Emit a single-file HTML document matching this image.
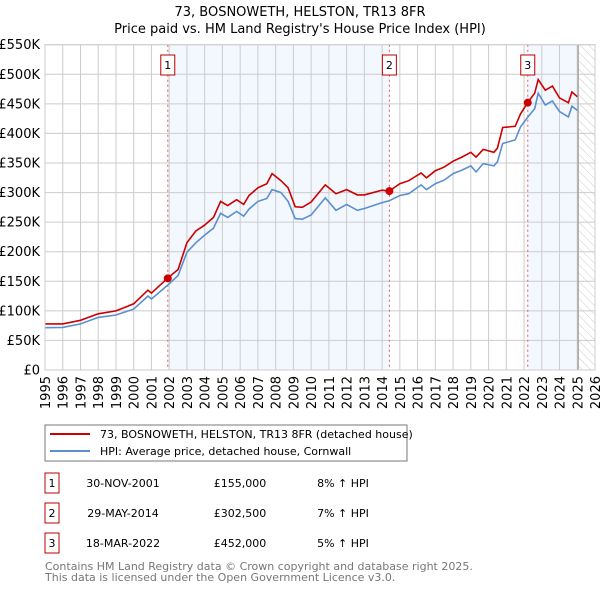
<!DOCTYPE html>
<html><head><meta charset="utf-8"><style>
body{margin:0;background:#fff;font-family:"Liberation Sans","DejaVu Sans",sans-serif;}
svg text{font-family:"DejaVu Sans","Liberation Sans",sans-serif;}
</style></head><body>
<svg id="chart" width="600" height="590" xmlns="http://www.w3.org/2000/svg">
<defs><pattern id="hatch" width="6" height="6" patternUnits="userSpaceOnUse" patternTransform="rotate(-45)"><line x1="0" y1="0" x2="0" y2="6" stroke="#ccc" stroke-width="1"/></pattern></defs>
<text x="300" y="16" text-anchor="middle" font-size="13">73, BOSNOWETH, HELSTON, TR13 8FR</text>
<text x="300" y="33" text-anchor="middle" font-size="13">Price paid vs. HM Land Registry's House Price Index (HPI)</text>
<g id="plot"></g>
<g>
<rect x="45" y="425" width="362" height="36" fill="#fff" stroke="#777"/>
<line x1="50" y1="434" x2="90" y2="434" stroke="#cc0000" stroke-width="2"/>
<text x="100" y="438" font-size="11">73, BOSNOWETH, HELSTON, TR13 8FR (detached house)</text>
<line x1="50" y1="451" x2="90" y2="451" stroke="#5b8fd0" stroke-width="2"/>
<text x="100" y="455" font-size="11">HPI: Average price, detached house, Cornwall</text>
</g>
<g id="table"></g>
<text x="45" y="570" font-size="11" fill="#777">Contains HM Land Registry data © Crown copyright and database right 2025.</text>
<text x="45" y="581" font-size="11" fill="#777">This data is licensed under the Open Government Licence v3.0.</text>
</svg>
<script>
const dates=[1995,1996,1997,1998,1999,2000,2000.8,2001,2001.9,2002.5,2003,2003.5,2004,2004.5,2004.9,2005.3,2005.8,2006.2,2006.5,2007,2007.5,2007.8,2008.3,2008.7,2009.1,2009.5,2010,2010.8,2011.4,2012,2012.6,2013,2014,2014.4,2015,2015.5,2016.2,2016.5,2017,2017.5,2018,2018.5,2019,2019.3,2019.7,2020.3,2020.5,2020.8,2021.5,2021.8,2022.2,2022.6,2022.8,2023.2,2023.6,2024,2024.5,2024.7,2025.0];
const hpi=[71.5,72,78,89,93,103,125,120,143,160,199,215,228,240,265,258,268,260,272,285,290,305,300,285,256,255,262,291,270,280,270,273,283,286,295,298,313,305,315,321,332,338,345,335,349,345,352,383,389,411,427,442,468,448,455,437,428,446,439];
const price=[78,78,84,95,100,112,135,130,155,170,215,235,245,258,285,278,288,280,295,308,315,332,320,308,276,275,284,313,298,305,296,296,304,302.5,315,320,333,325,337,343,353,360,368,360,373,368,375,410,412,433,452,468,491,473,480,460,452,470,462];
const saleDates=[2001.92,2014.41,2022.21];
const salePrices=[155,302.5,452];
const saleLabels=["30-NOV-2001","29-MAY-2014","18-MAR-2022"];
const salePriceText=["£155,000","£302,500","£452,000"];
const saleHpiText=["8% ↑ HPI","7% ↑ HPI","5% ↑ HPI"];
const yTicks=[0,50,100,150,200,250,300,350,400,450,500,550];
const yTickLabels=["£0","£50K","£100K","£150K","£200K","£250K","£300K","£350K","£400K","£450K","£500K","£550K"];
const xTicks=[1995,1996,1997,1998,1999,2000,2001,2002,2003,2004,2005,2006,2007,2008,2009,2010,2011,2012,2013,2014,2015,2016,2017,2018,2019,2020,2021,2022,2023,2024,2025,2026];
const dataEnd=2025.05;

const NS="http://www.w3.org/2000/svg";
const X0=45,X1=595,Y0=370,Y1=44.7;
const sx=v=>X0+(v-1995)/31*(X1-X0);
const sy=v=>Y0-v/550*(Y0-Y1);
const plot=document.getElementById('plot');
function mk(tag,attrs,parent){const e=document.createElementNS(NS,tag);for(const k in attrs)e.setAttribute(k,attrs[k]);(parent||plot).appendChild(e);return e;}

let r=mk('rect',{x:sx(saleDates[0]),y:Y1,width:sx(saleDates[1])-sx(saleDates[0]),height:Y0-Y1,fill:'#eef3fd',opacity:0.7});


r=mk('rect',{x:sx(saleDates[2]),y:Y1,width:sx(dataEnd)-sx(saleDates[2]),height:Y0-Y1,fill:'#eef3fd',opacity:0.7});


r=mk('rect',{x:sx(dataEnd),y:Y1,width:X1-sx(dataEnd),height:Y0-Y1,fill:'url(#hatch)'});



yTicks.forEach((t,i)=>{
 const l=mk('line',{x1:X0,x2:X1,y1:sy(t),y2:sy(t),stroke:'#ccc'});
 
 
 const tx=mk('text',{x:40,y:sy(t)+4.5,'text-anchor':'end','font-size':'13'});
 tx.textContent=yTickLabels[i];
 
 
});
xTicks.forEach(t=>{
 const l=mk('line',{x1:sx(t),x2:sx(t),y1:Y1,y2:Y0,stroke:'#ccc'});
 
 
 const tx=mk('text',{x:0,y:0,'text-anchor':'end','font-size':'13',transform:`translate(${sx(t)+5},376) rotate(-90)`});
 tx.textContent=t;
 
 
});
let d=mk('line',{x1:sx(dataEnd),x2:sx(dataEnd),y1:Y1,y2:Y0,stroke:'#999','stroke-width':1.2});



saleDates.forEach((s,i)=>{
 const l=mk('line',{x1:sx(s),x2:sx(s),y1:Y1,y2:Y0,stroke:'#e55','stroke-dasharray':'2,3'});
 
 
 const b=mk('rect',{x:sx(s)-7,y:55,width:14,height:20,fill:'#fff',stroke:'#b00'});
 
 
 const t=mk('text',{x:sx(s),y:69,'text-anchor':'middle','font-size':'11'});
 t.textContent=i+1;
 
 
});

const pathOf=arr=>arr.map((v,i)=>(i?'L':'M')+sx(dates[i]).toFixed(1)+','+sy(v).toFixed(1)).join('');
let p=mk('path',{d:pathOf(hpi),fill:'none',stroke:'#5b8fd0','stroke-width':1.6});


p=mk('path',{d:pathOf(price),fill:'none',stroke:'#cc0000','stroke-width':1.6});


saleDates.forEach((s,i)=>{
 const c=mk('circle',{cx:sx(s),cy:sy(salePrices[i]),r:4,fill:'#cc0000'});
 
 
});
let bd=mk('rect',{x:X0,y:Y1,width:X1-X0,height:Y0-Y1,fill:'none',stroke:'#ccc'});



const tb=document.getElementById('table');
saleLabels.forEach((lab,i)=>{
 const y=483+i*30;
 const b=mk('rect',{x:45,y:y-10,width:14,height:20,fill:'#fff',stroke:'#b00'},tb);
 
 
 const n=mk('text',{x:52,y:y+4,'text-anchor':'middle','font-size':'11'},tb);n.textContent=i+1;
 
 
 const a=mk('text',{x:123,y:y+4,'text-anchor':'middle','font-size':'11'},tb);a.textContent=lab;
 
 
 const pr=mk('text',{x:240,y:y+4,'text-anchor':'middle','font-size':'11'},tb);pr.textContent=salePriceText[i];
 
 
 const h=mk('text',{x:343,y:y+4,'text-anchor':'middle','font-size':'11'},tb);h.textContent=saleHpiText[i];
 
 
});
</script>
</body></html>
